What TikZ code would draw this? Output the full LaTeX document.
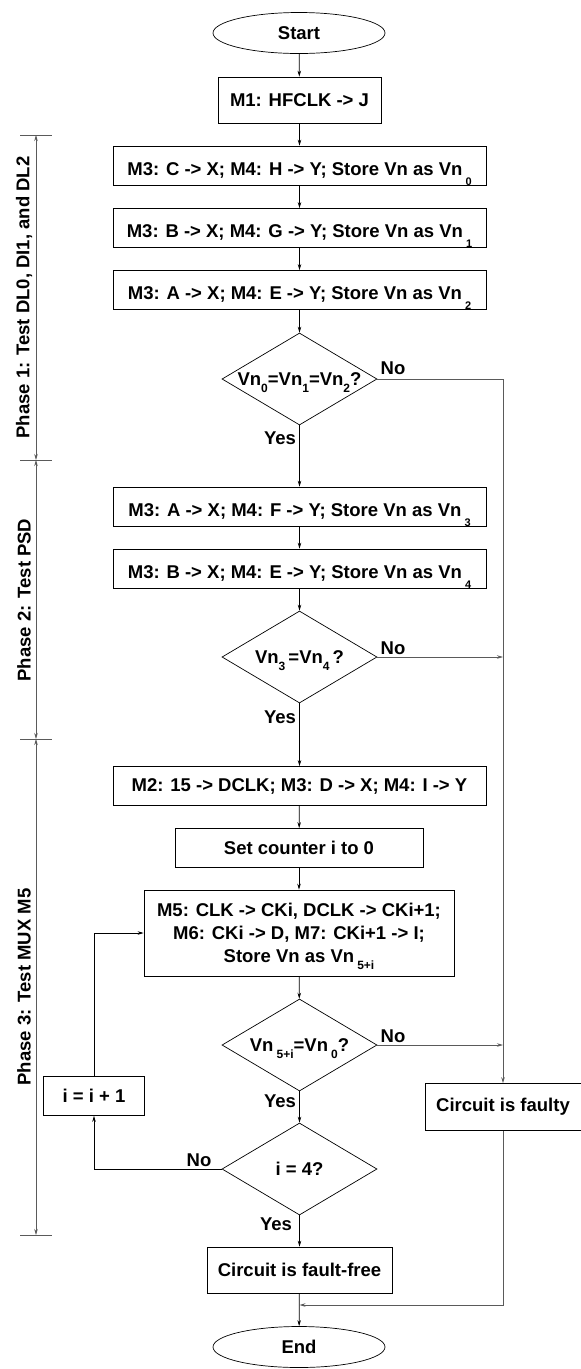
\documentclass[tikz,border=0pt]{standalone}
\usepackage{fontspec}
\setmainfont{Liberation Sans}
\usetikzlibrary{arrows.meta,positioning,shapes.geometric,calc}
\definecolor{fcgray}{RGB}{90,90,90}
% lowered indices: in boxes and in decisions
\newcommand{\boxidx}[1]{\smash{\raisebox{-10pt}{\fontsize{11}{11}\selectfont #1}}}
\newcommand{\decidx}[1]{\smash{\raisebox{-7pt}{\fontsize{12}{12}\selectfont #1}}}

\begin{document}
\begin{tikzpicture}[x=1pt,y=-1pt,
  every node/.style={font=\fontsize{18.5}{22}\selectfont\bfseries},
  procbox/.style={draw,rectangle,inner sep=0pt,line width=0.7pt,align=center},
  subbox/.style={procbox,minimum width=373pt,minimum height=39pt,text height=20pt,text depth=1pt},
  termbox/.style={draw,ellipse,inner sep=0pt,line width=0.7pt,minimum width=172pt,minimum height=41pt},
  decbox/.style={draw,diamond,aspect=1.7,inner xsep=-6pt,inner ysep=0pt,line width=0.7pt,minimum width=155pt,minimum height=92pt},
  flow/.style={-{Stealth[length=6pt,width=3.5pt]},line width=0.7pt},
  faultflow/.style={-{Stealth[length=6pt,width=3.5pt]},line width=0.7pt,draw=fcgray},
  phasearrow/.style={{Stealth[length=6pt,width=3.5pt]}-{Stealth[length=6pt,width=3.5pt]},line width=0.7pt,draw=fcgray},
  phaseline/.style={line width=0.7pt,draw=fcgray}]
  \useasboundingbox (0,0) rectangle (581,1369);
  % main column
  \node[termbox] (start) at (299,33) {Start};
  \node[procbox,minimum width=163pt,minimum height=46pt] (m1) at (299.5,100) {M1: HFCLK -> J};
  \node[subbox] (vn0) at (299.5,165.5) {M3: C -> X; M4: H -> Y; Store Vn as Vn\,\boxidx{0}};
  \node[subbox] (vn1) at (299.5,228) {M3: B -> X; M4: G -> Y; Store Vn as Vn\,\boxidx{1}};
  \node[subbox] (vn2) at (299.5,290) {M3: A -> X; M4: E -> Y; Store Vn as Vn\,\boxidx{2}};
  \node[decbox] (d1) at (299.5,379) {Vn\decidx{0}=Vn\decidx{1}=Vn\decidx{2}?};
  \node[subbox] (vn3) at (299.5,506.5) {M3: A -> X; M4: F -> Y; Store Vn as Vn\,\boxidx{3}};
  \node[subbox] (vn4) at (299.5,568.5) {M3: B -> X; M4: E -> Y; Store Vn as Vn\,\boxidx{4}};
  \node[decbox] (d2) at (299.5,657) {Vn\decidx{3}\,=Vn\decidx{4}\,?};
  \node[procbox,minimum width=373pt,minimum height=39pt] (m2) at (299.5,786) {M2: 15 -> DCLK; M3: D -> X; M4: I -> Y};
  \node[procbox,minimum width=248pt,minimum height=39pt] (setc) at (299,848) {Set counter i to 0};
  \node[procbox,minimum width=310pt,minimum height=86pt,font=\fontsize{18.5}{23}\selectfont\bfseries] (m5) at (299,933)
    {M5: CLK -> CKi, DCLK -> CKi+1;\\M6: CKi -> D, M7: CKi+1 -> I;\\Store Vn as Vn\,\decidx{5+i}};
  \node[decbox] (d3) at (299.5,1045) {Vn\,\decidx{5+i}=Vn\,\decidx{0}?};
  \node[decbox] (d4) at (299.5,1169) {i = 4?};
  \node[procbox,minimum width=101pt,minimum height=39pt] (inc) at (94,1096) {i = i + 1};
  \node[procbox,minimum width=156pt,minimum height=47pt] (faulty) at (503,1107) {Circuit is faulty};
  \node[procbox,minimum width=185pt,minimum height=46pt] (free) at (299.5,1270) {Circuit is fault-free};
  \node[termbox] (end) at (299,1347) {End};
  % decision labels
  \node (no1) at (393,368) {No};
  \node (yes1) at (280,438) {Yes};
  \node (no2) at (393,648) {No};
  \node (yes2) at (280,717) {Yes};
  \node (no3) at (393,1036) {No};
  \node (yes3) at (280,1101) {Yes};
  \node (no4) at (199,1160) {No};
  \node (yes4) at (276,1224) {Yes};
  % straight flow
  \draw[flow] (start) -- (m1);
  \draw[flow] (m1) -- (vn0);
  \draw[flow] (vn0) -- (vn1);
  \draw[flow] (vn1) -- (vn2);
  \draw[flow] (vn2) -- (d1);
  \draw[flow] (d1) -- (vn3);
  \draw[flow] (vn3) -- (vn4);
  \draw[flow] (vn4) -- (d2);
  \draw[flow] (d2) -- (m2);
  \draw[flow] (m2) -- (setc);
  \draw[flow] (setc) -- (m5);
  \draw[flow] (m5) -- (d3);
  \draw[flow] (d3) -- (d4);
  \draw[flow] (d4) -- (free);
  \draw[flow] (free) -- (end);
  % loop back
  \draw[flow] (d4.west) -| (inc.south);
  \draw[flow] (inc.north) |- (m5.west);
  % fault path
  \coordinate (fj2) at (d2.east -| faulty.north);
  \coordinate (fj3) at (d3.east -| faulty.north);
  \coordinate (fjoin) at (faulty.south |- 0,1305);
  \coordinate (ejoin) at (free.south |- 0,1305);
  \draw[faultflow] (d1.east) -| (faulty.north);
  \draw[faultflow] (d2.east) -- (fj2);
  \draw[faultflow] (d3.east) -- (fj3);
  \draw[faultflow] (faulty.south) -- (fjoin) -- (ejoin);
  % phase brackets
  \coordinate (ph0) at (36,135);
  \coordinate (ph1) at (36,460);
  \coordinate (ph2) at (36,739);
  \coordinate (ph3) at (36,1235);
  \draw[phasearrow] (ph0) -- (ph1);
  \draw[phasearrow] (ph1) -- (ph2);
  \draw[phasearrow] (ph2) -- (ph3);
  \foreach \p in {ph0,ph1,ph2,ph3}
    \draw[phaseline] ($(\p)+(-16,0)$) -- ($(\p)+(16,0)$);
  \node[rotate=90] (phase1) at (24,297.5) {Phase 1: Test DL0, DI1, and DL2};
  \node[rotate=90] (phase2) at (24,600) {Phase 2: Test PSD};
  \node[rotate=90] (phase3) at (24,987) {Phase 3: Test MUX M5};
\end{tikzpicture}
\end{document}
